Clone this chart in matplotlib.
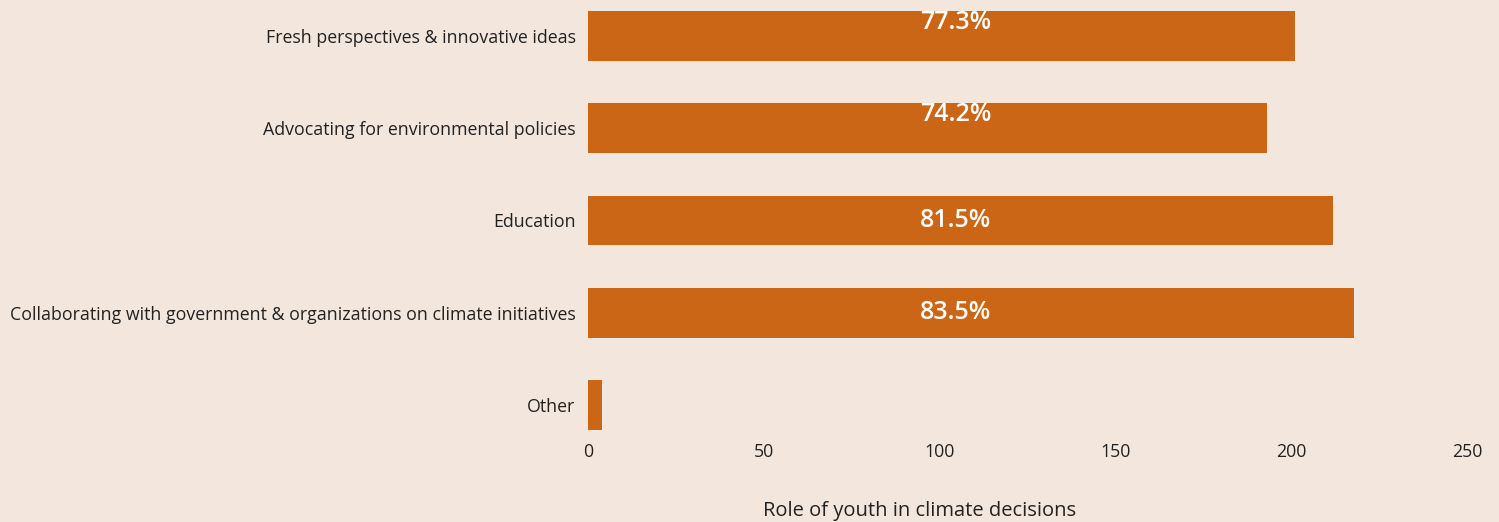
import matplotlib.pyplot as plt

categories = ["Fresh perspectives & innovative ideas",
              "Advocating for environmental policies",
              "Education",
              "Collaborating with government & organizations on climate initiatives",
              "Other"]
counts = [201, 193, 212, 218, 4]
pct_labels = ["77.3%", "74.2%", "81.5%", "83.5%", ""]
label_shift = [-0.15, -0.15, 0, 0, 0]  # first two labels sit high in the bar
xticks = [0, 50, 100, 150, 200, 250]

bg = "#f3e6dd"
bar_color = "#ca6616"

plt.rcParams['font.family'] = ['Open Sans', 'DejaVu Sans']

fig = plt.figure(figsize=(14.99, 5.22), dpi=100, facecolor=bg)
ax = fig.add_axes([588 / 1499, 85 / 522, 879 / 1499, 437 / 522])
ax.set_facecolor(bg)

ypos = list(range(len(categories)))
ax.barh(ypos, counts, height=0.54, color=bar_color)

for y, lab, dy in zip(ypos, pct_labels, label_shift):
    if lab:
        ax.text(104.6, y + dy, lab, color="white", fontsize=18,
                fontweight="semibold", ha="center", va="center")

ax.set_xlim(0, 250)
ax.set_ylim(4 + 0.347, -0.39)
ax.set_yticks(ypos)
ax.set_yticklabels(categories, fontsize=12.8, color="#222222")
ax.set_xticks(xticks)
ax.set_xticklabels([str(t) for t in xticks], fontsize=12.8, color="#222222")
ax.tick_params(length=0, axis="y", pad=9)
ax.tick_params(length=0, axis="x", pad=4)
for s in ax.spines.values():
    s.set_visible(False)

fig.text(920 / 1499, 1 - 511 / 522, "Role of youth in climate decisions",
         fontsize=14.5, color="#222222", ha="center", va="center")

fig.savefig("out.png", dpi=100, facecolor=bg)
